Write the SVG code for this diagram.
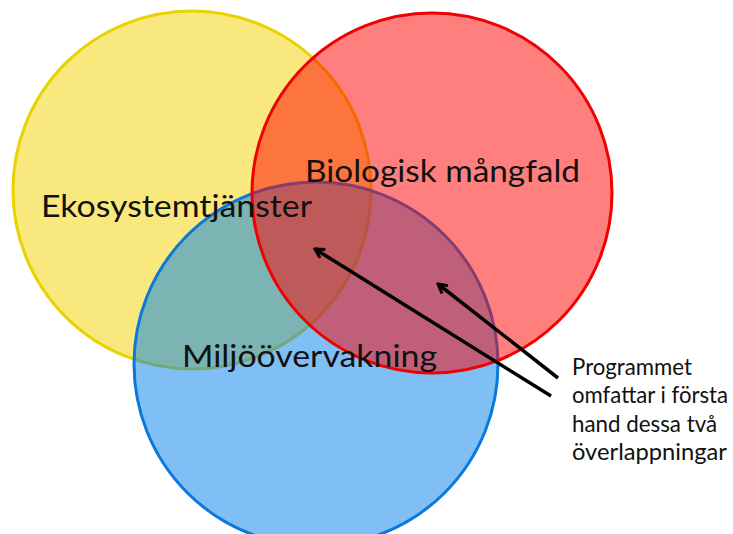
<svg xmlns="http://www.w3.org/2000/svg" width="733" height="534" viewBox="0 0 733 534">
<defs>
<style>
.lbl{font-family:Lato,"Open Sans","DejaVu Sans",sans-serif;fill:#111;}
.big{font-size:31px;}
.note{font-size:23px;}
.arr{stroke:#000;stroke-width:3.5;fill:none;}
</style>
<marker id="ah" viewBox="0 0 12 12" refX="10" refY="6" markerWidth="12" markerHeight="12" markerUnits="userSpaceOnUse" orient="auto">
<path d="M1,1 L10,6 L1,11" fill="none" stroke="#000" stroke-width="3"/>
</marker>
</defs>
<rect width="733" height="534" fill="#fff"/>
<g id="yellow">
<circle cx="192" cy="190" r="179" fill="#F9E87D" stroke="#E8D300" stroke-width="3"/>
</g>
<g id="blue">
<circle cx="316" cy="364" r="182" fill="rgb(0,128,235)" fill-opacity="0.5" stroke="#0A78DC" stroke-width="3"/>
</g>
<g id="red">
<circle cx="432" cy="193" r="180" fill="rgb(255,0,0)" fill-opacity="0.5" stroke="#F00000" stroke-width="3"/>
</g>
<g id="labels">
<text class="lbl big" x="41" y="217" textLength="271" lengthAdjust="spacingAndGlyphs">Ekosystemtjänster</text>
<text class="lbl big" x="305" y="182" textLength="275" lengthAdjust="spacingAndGlyphs">Biologisk mångfald</text>
<text class="lbl big" x="182" y="367" textLength="255" lengthAdjust="spacingAndGlyphs">Miljöövervakning</text>
</g>
<g id="note">
<text class="lbl note" x="572" y="375" textLength="120" lengthAdjust="spacingAndGlyphs">Programmet</text>
<text class="lbl note" x="572" y="403" textLength="156" lengthAdjust="spacingAndGlyphs">omfattar i första</text>
<text class="lbl note" x="572" y="432" textLength="145" lengthAdjust="spacingAndGlyphs">hand dessa två</text>
<text class="lbl note" x="572" y="460" textLength="155" lengthAdjust="spacingAndGlyphs">överlappningar</text>
</g>
<g id="connectors">
<line class="arr" x1="551" y1="396" x2="315" y2="249" marker-end="url(#ah)"/>
<line class="arr" x1="558" y1="378" x2="438" y2="284" marker-end="url(#ah)"/>
</g>
</svg>
